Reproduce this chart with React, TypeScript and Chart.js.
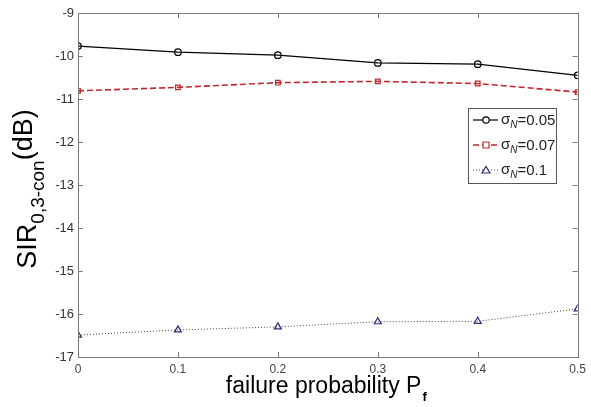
import React, { useEffect, useRef } from "react";
import { Chart, registerables } from "chart.js";

Chart.register(...registerables);

const xValues = [0, 0.1, 0.2, 0.3, 0.4, 0.5];
const sigma005 = [-9.77, -9.91, -9.98, -10.16, -10.19, -10.45];
const sigma007 = [-10.81, -10.73, -10.62, -10.59, -10.64, -10.84];
const sigma01 = [-16.49, -16.37, -16.3, -16.18, -16.17, -15.88];
const seriesLabels = ["0.05", "0.07", "0.1"];
const xTicks = [0, 0.1, 0.2, 0.3, 0.4, 0.5];
const yTicks = [-17, -16, -15, -14, -13, -12, -11, -10, -9];

const FONT = "'Liberation Sans', Arial, sans-serif";
const RED = "#c0282d";
const NAVY = "#2a2a78";

const styles = [
  { color: "#000000", dash: [] as number[], width: 1.2, point: "circle", pointColor: "#000000" },
  { color: RED, dash: [6, 3], width: 1.6, point: "rect", pointColor: RED },
  { color: "#444444", dash: [1, 2], width: 1, point: "triangle", pointColor: NAVY },
];

const decorPlugin = {
  id: "decor",
  afterDraw(chart: any) {
    const ctx: CanvasRenderingContext2D = chart.ctx;
    const { left, right, top, bottom } = chart.chartArea;
    const xs = chart.scales.x;
    const ys = chart.scales.y;
    ctx.save();
    // frame
    ctx.strokeStyle = "#7a7a7a";
    ctx.lineWidth = 1;
    ctx.setLineDash([]);
    ctx.strokeRect(Math.round(left) + 0.5, Math.round(top) + 0.5, Math.round(right - left), Math.round(bottom - top));
    // inward ticks
    const tl = 5;
    ctx.beginPath();
    xTicks.forEach((v) => {
      const px = Math.round(xs.getPixelForValue(v)) + 0.5;
      ctx.moveTo(px, bottom);
      ctx.lineTo(px, bottom - tl);
      ctx.moveTo(px, top);
      ctx.lineTo(px, top + tl);
    });
    yTicks.forEach((v) => {
      const py = Math.round(ys.getPixelForValue(v)) + 0.5;
      ctx.moveTo(left, py);
      ctx.lineTo(left + tl, py);
      ctx.moveTo(right, py);
      ctx.lineTo(right - tl, py);
    });
    ctx.stroke();

    // x title
    ctx.fillStyle = "#000";
    ctx.textBaseline = "alphabetic";
    ctx.textAlign = "left";
    ctx.font = `23px ${FONT}`;
    const main = "failure probability P";
    const mw = ctx.measureText(main).width;
    ctx.font = `bold 13px ${FONT}`;
    const sw = ctx.measureText("f").width;
    const cx = (left + right) / 2 - 2;
    const startX = cx - (mw + sw) / 2;
    ctx.font = `23px ${FONT}`;
    ctx.fillText(main, startX, 393);
    ctx.font = `bold 13px ${FONT}`;
    ctx.fillText("f", startX + mw + 1, 401);

    // y title (rotated)
    ctx.save();
    ctx.translate(36, (top + bottom) / 2 + 4);
    ctx.rotate(-Math.PI / 2);
    ctx.font = `27px ${FONT}`;
    const a = "SIR";
    const aw = ctx.measureText(a).width;
    ctx.font = `19px ${FONT}`;
    const b = "0,3-con";
    const bw = ctx.measureText(b).width;
    ctx.font = `27px ${FONT}`;
    const c = "(dB)";
    const cw = ctx.measureText(c).width;
    const total = aw + bw + cw;
    let x0 = -total / 2;
    ctx.font = `27px ${FONT}`;
    ctx.fillText(a, x0, 0);
    x0 += aw;
    ctx.font = `19px ${FONT}`;
    ctx.fillText(b, x0, 8);
    x0 += bw;
    ctx.font = `27px ${FONT}`;
    ctx.fillText(c, x0, -4);
    ctx.restore();

    // legend
    const bx = 468, by = 108, bwid = 88, bh = 75;
    ctx.fillStyle = "#ffffff";
    ctx.fillRect(bx, by, bwid, bh);
    ctx.strokeStyle = "#555";
    ctx.lineWidth = 1;
    ctx.strokeRect(bx + 0.5, by + 0.5, bwid, bh);
    const rows = [120, 145, 170];
    styles.forEach((s, i) => {
      const y = rows[i];
      ctx.strokeStyle = s.color;
      ctx.lineWidth = s.width;
      ctx.setLineDash(s.dash);
      ctx.beginPath();
      ctx.moveTo(473, y);
      ctx.lineTo(498, y);
      ctx.stroke();
      ctx.setLineDash([]);
      ctx.strokeStyle = s.pointColor;
      ctx.lineWidth = 1.2;
      ctx.fillStyle = "#fff";
      const mx = 486;
      ctx.beginPath();
      if (s.point === "circle") {
        ctx.arc(mx, y, 3.2, 0, Math.PI * 2);
      } else if (s.point === "rect") {
        ctx.rect(mx - 3, y - 3, 6, 6);
      } else {
        ctx.moveTo(mx, y - 3.5);
        ctx.lineTo(mx + 4, y + 3);
        ctx.lineTo(mx - 4, y + 3);
        ctx.closePath();
      }
      ctx.fill();
      ctx.stroke();
      ctx.fillStyle = "#222";
      ctx.font = `15px ${FONT}`;
      ctx.fillText("σ", 501, y + 4);
      const sgw = ctx.measureText("σ").width;
      ctx.font = `italic 10px ${FONT}`;
      ctx.fillText("N", 501 + sgw, y + 8);
      const nw = ctx.measureText("N").width;
      ctx.font = `15px ${FONT}`;
      ctx.fillText("=" + seriesLabels[i], 501 + sgw + nw, y + 5);
    });
    ctx.restore();
  },
};

export default function App() {
  const ref = useRef<HTMLCanvasElement>(null);
  useEffect(() => {
    document.body.style.margin = "0";
    const toData = (arr: number[]) => arr.map((y, i) => ({ x: xValues[i], y }));
    const all = [sigma005, sigma007, sigma01];
    const chart = new Chart(ref.current as HTMLCanvasElement, {
      type: "line",
      data: {
        datasets: all.map((arr, i) => ({
          label: "σN=" + seriesLabels[i],
          data: toData(arr),
          borderColor: styles[i].color,
          borderWidth: styles[i].width,
          borderDash: styles[i].dash,
          pointStyle: styles[i].point as any,
          pointRadius: i === 2 ? 4 : 3.3,
          pointBorderColor: styles[i].pointColor,
          pointBackgroundColor: "rgba(255,255,255,0)",
          pointBorderWidth: 1.2,
          tension: 0,
          fill: false,
        })),
      },
      plugins: [decorPlugin],
      options: {
        animation: false,
        responsive: false,
        maintainAspectRatio: false,
        layout: { padding: { left: 0, right: 12, top: 13, bottom: 0 } },
        plugins: { legend: { display: false }, tooltip: { enabled: false } },
        scales: {
          x: {
            type: "linear",
            min: 0,
            max: 0.5,
            afterFit: (s: any) => { s.height = 50; },
            afterBuildTicks: (s: any) => { s.ticks = xTicks.map((v) => ({ value: v })); },
            grid: { display: false, drawTicks: false },
            border: { display: false },
            ticks: {
              padding: 5,
              color: "#444",
              font: { family: FONT, size: 12 },
              callback: (v: any) => String(Math.round(Number(v) * 10) / 10),
            },
          },
          y: {
            type: "linear",
            min: -17,
            max: -9,
            afterFit: (s: any) => { s.width = 78; },
            afterBuildTicks: (s: any) => { s.ticks = yTicks.map((v) => ({ value: v })); },
            grid: { display: false, drawTicks: false },
            border: { display: false },
            ticks: {
              padding: 4,
              color: "#333",
              font: { family: FONT, size: 13 },
              callback: (v: any) => String(v),
            },
          },
        },
      } as any,
    });
    return () => chart.destroy();
  }, []);
  return <canvas ref={ref} width={591} height={407} style={{ display: "block" }} />;
}
